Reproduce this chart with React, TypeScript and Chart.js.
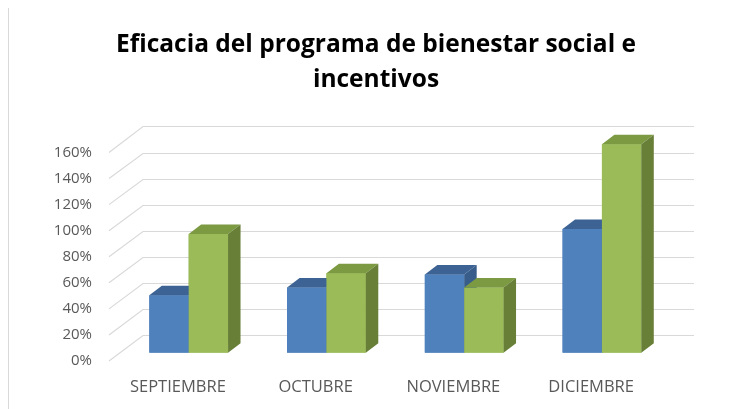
import React, { useEffect, useRef } from "react";
import { Chart, registerables } from "chart.js";

Chart.register(...registerables);

const categories = ["SEPTIEMBRE", "OCTUBRE", "NOVIEMBRE", "DICIEMBRE"];
const serie1 = [44, 50, 60, 95];
const serie2 = [91, 61, 50, 160];
const titleLines = ["Eficacia del programa de bienestar social e", "incentivos"];

const FRONT_DX = 10.8;
const FRONT_DY = 8.3;
const BACK_DX = 23.2;
const BACK_DY = 17.7;
const BAR_DX = 12.5;
const BAR_DY = 9.5;

const faceColors = [
  { front: "#4F81BD", top: "#3C6393", side: "#385D8A" },
  { front: "#9BBB59", top: "#7B9A42", side: "#687F37" },
];

const threeD = {
  id: "threeD",
  beforeDraw(chart: any) {
    const { ctx, width, height } = chart;
    ctx.save();
    ctx.strokeStyle = "#d9d9d9";
    ctx.lineWidth = 1;
    ctx.beginPath();
    ctx.moveTo(0.5, height);
    ctx.lineTo(0.5, 0.5);
    ctx.lineTo(width, 0.5);
    ctx.stroke();
    ctx.restore();
  },
  beforeDatasetsDraw(chart: any) {
    const { ctx, chartArea, scales } = chart;
    const y = scales.y;
    ctx.save();
    ctx.strokeStyle = "#d9d9d9";
    ctx.lineWidth = 1.2;
    y.ticks.forEach((t: any) => {
      const yb = y.getPixelForValue(t.value);
      const fx = chartArea.left - FRONT_DX;
      const fy = yb + FRONT_DY;
      const bx = chartArea.left + BACK_DX;
      const by = Math.round(yb - BACK_DY) + 0.5;
      const rx = chartArea.right + BACK_DX;
      ctx.beginPath();
      ctx.moveTo(fx, fy);
      ctx.lineTo(bx, by);
      ctx.lineTo(rx, by);
      ctx.stroke();
    });
    ctx.restore();
  },
  afterDatasetsDraw(chart: any) {
    const { ctx } = chart;
    ctx.save();
    const n = chart.data.labels.length;
    for (let i = 0; i < n; i++) {
      chart.data.datasets.forEach((_: any, d: number) => {
        const el = chart.getDatasetMeta(d).data[i];
        if (!el) return;
        const p = el.getProps(["x", "y", "base", "width"], true);
        const l = p.x - p.width / 2;
        const r = p.x + p.width / 2;
        const top = p.y;
        const base = p.base;
        const c = faceColors[d];
        ctx.fillStyle = c.front;
        ctx.fillRect(l, top, r - l, base - top);
        ctx.fillStyle = c.top;
        ctx.beginPath();
        ctx.moveTo(l, top);
        ctx.lineTo(l + BAR_DX, top - BAR_DY);
        ctx.lineTo(r + BAR_DX, top - BAR_DY);
        ctx.lineTo(r, top);
        ctx.closePath();
        ctx.fill();
        ctx.fillStyle = c.side;
        ctx.beginPath();
        ctx.moveTo(r, top);
        ctx.lineTo(r + BAR_DX, top - BAR_DY);
        ctx.lineTo(r + BAR_DX, base - BAR_DY);
        ctx.lineTo(r, base);
        ctx.closePath();
        ctx.fill();
      });
    }
    ctx.restore();
  },
};

export default function App() {
  const ref = useRef<HTMLCanvasElement>(null);
  useEffect(() => {
    if (!ref.current) return;
    const chart = new Chart(ref.current, {
      type: "bar",
      data: {
        labels: categories,
        datasets: [
          { label: "Serie 1", data: serie1, backgroundColor: faceColors[0].front, borderWidth: 0 },
          { label: "Serie 2", data: serie2, backgroundColor: faceColors[1].front, borderWidth: 0 },
        ],
      },
      options: {
        animation: false,
        responsive: false,
        devicePixelRatio: 1,
        layout: { padding: { left: 11, right: 0, top: 0, bottom: 0 } },
        datasets: { bar: { categoryPercentage: 2 / 3.5, barPercentage: 1 } },
        plugins: {
          legend: { display: false },
          tooltip: { enabled: false },
          title: {
            display: true,
            text: titleLines,
            color: "#000000",
            font: { family: "Open Sans", size: 24.5, weight: "bold", lineHeight: 35 / 24.5 },
            padding: { top: 20.5, bottom: 46.7 },
          },
        },
        scales: {
          x: {
            grid: { display: false, drawTicks: false },
            border: { display: false },
            ticks: {
              color: "#595959",
              font: { family: "Open Sans", size: 16.5 },
              labelOffset: -FRONT_DX,
              padding: 25,
              maxRotation: 0,
            },
            afterFit: (s: any) => {
              s.height = 56.3;
            },
          },
          y: {
            min: 0,
            max: 160,
            grid: { display: false, drawTicks: false },
            border: { display: false },
            ticks: {
              stepSize: 20,
              color: "#595959",
              font: { family: "Open Sans", size: 15 },
              labelOffset: FRONT_DY,
              padding: 27.8,
              callback: (v: any) => v + "%",
            },
            afterFit: (s: any) => {
              s.width = 100.8;
            },
          },
          yRight: {
            position: "right",
            min: 0,
            max: 160,
            grid: { display: false, drawTicks: false },
            border: { display: false },
            ticks: { display: false },
            afterFit: (s: any) => {
              s.width = 62.2;
            },
          },
        },
      },
      plugins: [threeD],
    });
    return () => chart.destroy();
  }, []);
  return (
    <div style={{ marginTop: -1 }}>
      <canvas ref={ref} width={725} height={402} style={{ display: "block" }} />
    </div>
  );
}
